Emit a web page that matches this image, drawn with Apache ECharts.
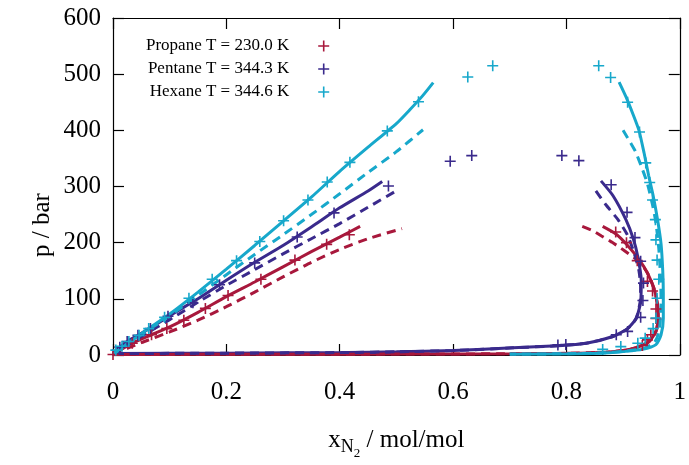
<!DOCTYPE html>
<html><head><meta charset="utf-8">
<script src="https://cdn.jsdelivr.net/npm/echarts@6/dist/echarts.min.js"></script>
<style>html,body{margin:0;padding:0;background:#fff}#c{width:689px;height:465px}</style>
</head><body><div id="c"></div>
<script>
const xTickLabels = ['0', '0.2', '0.4', '0.6', '0.8', '1'];
const yTickLabels = ['0', '100', '200', '300', '400', '500', '600'];
const seriesNames = ['Propane T = 230.0 K', 'Pentane T = 344.3 K', 'Hexane T = 344.6 K'];

// experimental points [x_N2, p/bar]
const propaneExp = [[0.0,1],[0.034,21],[0.068,36],[0.095,47],[0.125,62],[0.163,83],[0.203,106],[0.261,135],[0.321,169],[0.377,197],[0.417,214],
  [0.887,219],[0.906,200],[0.925,168],[0.943,131],[0.952,114],[0.958,82],[0.958,65],[0.949,36],[0.943,27],[0.934,17]];
const pentaneExp = [[0.012,14],[0.025,24],[0.044,35],[0.066,47],[0.097,69],[0.141,93],[0.188,125],[0.250,164],[0.325,210],[0.390,253],[0.486,301],[0.595,345],[0.633,355],
  [0.792,355],[0.822,346],[0.879,303],[0.907,254],[0.921,209],[0.931,167],[0.936,128],[0.935,97],[0.931,67],[0.908,42],[0.888,36],[0.799,18.5],[0.785,18]];
const hexaneExp = [[0.005,8.7],[0.016,15.6],[0.028,24],[0.046,35],[0.063,47],[0.091,67],[0.134,101],[0.175,135],[0.218,168],[0.259,202],[0.301,239],[0.344,276],[0.378,308],[0.418,343],[0.484,399],[0.539,451],[0.626,495],[0.670,515],
  [0.857,515],[0.878,494],[0.908,450],[0.929,397],[0.940,342],[0.947,307],[0.952,276],[0.957,241],[0.958,205],[0.960,169],[0.963,135],[0.960,101],[0.958,66],[0.953,47],[0.939,30],[0.926,21],[0.896,15],[0.864,10]];

// model curves (solid)
const propaneBubbleSolid = [[0,1],[0.034,21],[0.068,36],[0.1,50],[0.15,76],[0.2,104],[0.25,130],[0.3,157],[0.35,184],[0.4,210],[0.436,229]];
const propaneDewSolid = [[0.864,229],[0.888,215],[0.908,195],[0.929,169],[0.943,146],[0.955,117],[0.961,88],[0.962,65],[0.958,42],[0.946,24],[0.923,13],[0.9,8],[0.87,5],[0.8,3],[0.7,2.2],[0.5,1.6],[0.3,1.3],[0,1]];
const pentaneBubbleSolid = [[0,2.6],[0.012,14],[0.025,24],[0.044,35],[0.066,48],[0.1,70],[0.15,100],[0.2,133],[0.25,165],[0.3,195],[0.35,228],[0.4,262],[0.45,292],[0.475,309]];
const pentaneDewSolid = [[0.861,310],[0.882,284],[0.905,241],[0.918,207],[0.926,175],[0.932,134],[0.931,94],[0.923,65],[0.908,47],[0.882,33],[0.835,21],[0.784,16.5],[0.706,12.7],[0.601,8],[0.5,5.8],[0.414,4.5],[0.2,3.3],[0,2.6]];
const hexaneBubbleSolid = [[0,1.5],[0.02,16],[0.05,38],[0.1,73],[0.15,112],[0.2,153],[0.25,195],[0.3,238],[0.35,281],[0.4,327],[0.45,370],[0.5,412],[0.525,438],[0.545,460],[0.565,485]];
const hexaneDewSolid = [[0.893,486],[0.905,460],[0.917,430],[0.928,400],[0.937,360],[0.945,320],[0.953,284],[0.961,240],[0.967,198],[0.970,150],[0.971,111],[0.971,65],[0.967,36],[0.958,18.5],[0.934,10],[0.90,6],[0.876,4],[0.82,2.2],[0.70,1.5]];

// model curves (dashed)
const propaneBubbleDashed = [[0,1],[0.05,22],[0.1,41],[0.15,62],[0.2,86],[0.25,112],[0.3,139],[0.35,165],[0.4,188],[0.45,207],[0.51,225]];
const propaneDewDashed = [[0.828,229],[0.845,222],[0.862,212],[0.88,201],[0.895,191],[0.91,180],[0.928,167],[0.943,146],[0.955,117],[0.961,88],[0.962,65],[0.958,42],[0.946,24],[0.923,13],[0.9,8],[0.87,5],[0.8,3],[0.7,2.2],[0.5,1.6],[0.3,1.3],[0,1]];
const pentaneBubbleDashed = [[0,2.6],[0.05,33],[0.1,63],[0.15,94],[0.2,124],[0.25,152],[0.3,180],[0.35,207],[0.4,234],[0.45,263],[0.496,290]];
const pentaneDewDashed = [[0.852,292],[0.87,267],[0.891,241],[0.908,213],[0.92,180],[0.928,150],[0.931,120],[0.930,94],[0.923,65],[0.908,47],[0.882,33],[0.835,21],[0.784,16.5],[0.706,12.7],[0.601,8],[0.5,5.8],[0.414,4.5],[0.2,3.3],[0,2.6]];
const hexaneBubbleDashed = [[0,1.5],[0.05,36],[0.1,70],[0.15,106],[0.2,143],[0.25,179],[0.3,214],[0.35,250],[0.4,287],[0.45,325],[0.5,362],[0.547,401]];
const hexaneDewDashed = [[0.90,400],[0.913,378],[0.922,362],[0.934,331],[0.943,305],[0.952,267],[0.958,235],[0.963,190],[0.966,140],[0.967,100],[0.966,65],[0.963,40],[0.955,22],[0.934,11],[0.876,4.5],[0.82,2.5],[0.70,1.6]];

const colors = ['#a8183c', '#3a2a8c', '#17a8cb'];
const FONT = 'Liberation Serif, Times New Roman, serif';
const plus = 'path://M4.7,0H6.3V4.7H11V6.3H6.3V11H4.7V6.3H0V4.7H4.7Z';

function lineSeries(data, color, dashed) {
  return {type: 'line', data: data, symbol: 'none', smooth: 0.2, silent: true, z: 2,
    lineStyle: {color: color, width: 3, type: dashed ? [9, 6] : 'solid'}};
}
function expSeries(name, data, color) {
  return {type: 'scatter', name: name, data: data, symbol: plus, symbolSize: 11, z: 5,
    itemStyle: {color: color, opacity: 1}};
}

const series = [
  lineSeries(propaneBubbleSolid, colors[0], false), lineSeries(propaneDewSolid, colors[0], false),
  lineSeries(pentaneBubbleSolid, colors[1], false), lineSeries(pentaneDewSolid, colors[1], false),
  lineSeries(propaneBubbleDashed, colors[0], true), lineSeries(propaneDewDashed, colors[0], true),
  lineSeries(pentaneBubbleDashed, colors[1], true), lineSeries(pentaneDewDashed, colors[1], true),
  lineSeries(hexaneBubbleSolid, colors[2], false), lineSeries(hexaneDewSolid, colors[2], false),
  lineSeries(hexaneBubbleDashed, colors[2], true), lineSeries(hexaneDewDashed, colors[2], true),
  expSeries(seriesNames[0], propaneExp, colors[0]),
  expSeries(seriesNames[1], pentaneExp, colors[1]),
  expSeries(seriesNames[2], hexaneExp, colors[2])
];

const axisCommon = {
  axisLine: {show: true, onZero: false, lineStyle: {color: '#000', width: 1.2}},
  axisTick: {show: true, inside: true, length: 11, lineStyle: {color: '#000', width: 1.2}},
  splitLine: {show: false}
};

const chart = echarts.init(document.getElementById('c'), null, {renderer: 'canvas'});
chart.setOption({
  animation: false,
  backgroundColor: '#fff',
  grid: {left: 113, right: 5, top: 18, bottom: 101, containLabel: false},
  legend: {
    data: seriesNames, orient: 'vertical', align: 'right', left: 141, top: 31,
    itemWidth: 11, itemHeight: 11, itemGap: 3, icon: plus, selectedMode: false,
    textStyle: {fontFamily: FONT, fontSize: 17, color: '#000', lineHeight: 20, padding: [0, 24, 0, 0]}
  },
  xAxis: [
    Object.assign({type: 'value', min: 0, max: 1, interval: 0.2, position: 'bottom',
      axisLabel: {fontFamily: FONT, fontSize: 25, color: '#000', margin: 25,
        formatter: v => xTickLabels[Math.round(v / 0.2)]},
      name: '{a|x}{b|N}{c|2}{a| / mol/mol}', nameLocation: 'middle', nameGap: 66,
      nameTextStyle: {rich: {
        a: {fontFamily: FONT, fontSize: 25, color: '#000'},
        b: {fontFamily: FONT, fontSize: 18, color: '#000', padding: [14, 0, 0, 0]},
        c: {fontFamily: FONT, fontSize: 13, color: '#000', padding: [26, 0, 0, 0]}
      }}}, axisCommon),
    Object.assign({type: 'value', min: 0, max: 1, interval: 0.2, position: 'top',
      axisLabel: {show: false}}, axisCommon)
  ],
  yAxis: [
    Object.assign({type: 'value', min: 0, max: 600, interval: 100, position: 'left',
      axisLabel: {fontFamily: FONT, fontSize: 25, color: '#000', margin: 12,
        formatter: v => yTickLabels[Math.round(v / 100)]}}, axisCommon),
    Object.assign({type: 'value', min: 0, max: 600, interval: 100, position: 'right',
      axisLabel: {show: false}}, axisCommon)
  ],
  graphic: [{type: 'text', x: 42, y: 225, rotation: Math.PI / 2,
    style: {text: 'p / bar', font: '25px "Liberation Serif"', fill: '#000', align: 'center', verticalAlign: 'middle'}}],
  series: series
});
</script></body></html>
